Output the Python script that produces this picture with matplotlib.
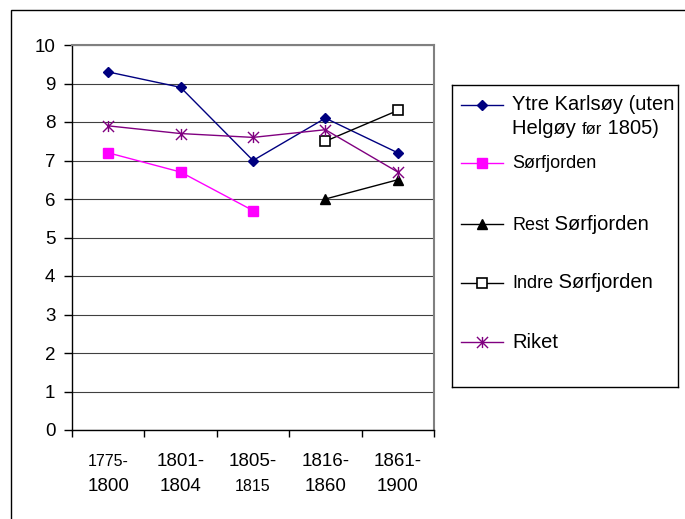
import matplotlib
matplotlib.use("Agg")
import matplotlib.pyplot as plt
import numpy as np
from matplotlib.path import Path
from matplotlib.lines import Line2D
from matplotlib.patches import Rectangle
from matplotlib.offsetbox import TextArea, HPacker, AnnotationBbox

plt.rcParams['font.family'] = ['Liberation Sans', 'DejaVu Sans']

# ---------------- data ----------------
cat_line1 = ["1775-", "1801-", "1805-", "1816-", "1861-"]
cat_line2 = ["1800", "1804", "1815", "1860", "1900"]
nan = np.nan
ytre_karlsoy = [9.3, 8.9, 7.0, 8.1, 7.2]
sorfjorden = [7.2, 6.7, 5.7, nan, nan]
rest_sorfjorden = [nan, nan, nan, 6.0, 6.5]
indre_sorfjorden = [nan, nan, nan, 7.5, 8.3]
riket = [7.9, 7.7, 7.6, 7.8, 6.7]
y_ticks = list(range(0, 11))

# legend label pieces: (text, fontsize) per line
legend_labels = [
    [[("Ytre Karlsøy (uten", 14.5)], [("Helgøy ", 14.5), ("før", 12), (" 1805)", 14.5)]],
    [[("Sørfjorden", 13)]],
    [[("Rest", 13), (" Sørfjorden", 14.5)]],
    [[("Indre", 13), (" Sørfjorden", 14.5)]],
    [[("Riket", 14.5)]],
]

# ---------------- styles ----------------
star = Path([(0, -1), (0, 1), (-1, -1), (1, 1), (-1, 1), (1, -1)],
            [Path.MOVETO, Path.LINETO] * 3)
series = [
    (ytre_karlsoy, dict(color="#000080", marker="D", markersize=5.0, markerfacecolor="#000080",
                        markeredgecolor="#000080", lw=1.0)),
    (sorfjorden, dict(color="#FF00FF", marker="s", markersize=7.2, markerfacecolor="#FF00FF",
                      markeredgecolor="#FF00FF", lw=1.0)),
    (rest_sorfjorden, dict(color="black", marker="^", markersize=6.8, markerfacecolor="black",
                           markeredgecolor="black", lw=1.0)),
    (indre_sorfjorden, dict(color="black", marker="s", markersize=6.5, markerfacecolor="white",
                            markeredgecolor="black", markeredgewidth=1.2, lw=1.0)),
    (riket, dict(color="#800080", marker=star, markersize=8.0, markeredgecolor="#800080",
                 markeredgewidth=1.0, lw=1.0)),
]
line1_sizes = [11.5, 13.5, 13.5, 13.5, 13.5]
line2_sizes = [13.5, 13.5, 11.5, 13.5, 13.5]

W, H = 685, 519
fig = plt.figure(figsize=(W / 100, H / 100), dpi=100)

# outer chart border
fig.patches.append(Rectangle((11 / W, -0.1), 1.1, 1.1 - 10 / H, transform=fig.transFigure,
                             fill=False, edgecolor="black", lw=1.0, zorder=0))

ax = fig.add_axes([72 / W, 1 - 430 / H, (434 - 72) / W, (430 - 45) / H])
x = np.arange(len(cat_line1))
for vals, st in series:
    ax.plot(x, vals, zorder=3, clip_on=False, **st)

ax.set_xlim(-0.5, len(x) - 0.5)
ax.set_ylim(0, 10)
ax.set_yticks(y_ticks)
ax.set_yticklabels([str(v) for v in y_ticks], fontsize=13.5)
ax.yaxis.grid(True, color="#404040", lw=0.8)
ax.set_axisbelow(True)
ax.set_xticks(np.arange(-0.5, len(x), 1.0))
ax.set_xticklabels([])
ax.tick_params(axis="y", direction="out", length=6, width=1, pad=6, colors="black")
ax.tick_params(axis="x", direction="out", length=5, width=1, colors="black")
for s in ("top", "right"):
    ax.spines[s].set_color("#808080")
    ax.spines[s].set_linewidth(1.5)
for s in ("left", "bottom"):
    ax.spines[s].set_color("black")
    ax.spines[s].set_linewidth(1.0)

xt = ax.get_xaxis_transform()
for i in range(len(x)):
    ax.annotate(cat_line1[i], xy=(i, 0), xycoords=xt, xytext=(0, -26), textcoords="offset points",
                ha="center", va="baseline", fontsize=line1_sizes[i], annotation_clip=False)
    ax.annotate(cat_line2[i], xy=(i, 0), xycoords=xt, xytext=(0, -44), textcoords="offset points",
                ha="center", va="baseline", fontsize=line2_sizes[i], annotation_clip=False)

# ---------------- legend ----------------
lx0, ly0, lx1, ly1 = 452, 85, 678, 387
lax = fig.add_axes([lx0 / W, 1 - ly1 / H, (lx1 - lx0) / W, (ly1 - ly0) / H])
lax.set_xlim(0, lx1 - lx0)
lax.set_ylim(ly1 - ly0, 0)
lax.set_xticks([])
lax.set_yticks([])
for s in lax.spines.values():
    s.set_color("black")
    s.set_linewidth(1.0)
row_y = [20, 78, 139, 198, 257]
line_gap = 24
for (vals, st), ry, lines in zip(series, row_y, legend_labels):
    lax.add_line(Line2D([9, 51], [ry, ry], **{k: v for k, v in st.items() if k != "marker"}))
    lax.add_line(Line2D([30], [ry], linestyle="none", **{k: v for k, v in st.items() if k != "lw"}))
    for li, pieces in enumerate(lines):
        tas = [TextArea(t, textprops=dict(size=sz)) for t, sz in pieces]
        box = HPacker(children=tas, align="baseline", pad=0, sep=0)
        ab = AnnotationBbox(box, (60, ry + li * line_gap), xycoords="data", box_alignment=(0, 0.5),
                            frameon=False, pad=0)
        lax.add_artist(ab)

fig.savefig("out.png", dpi=100)
